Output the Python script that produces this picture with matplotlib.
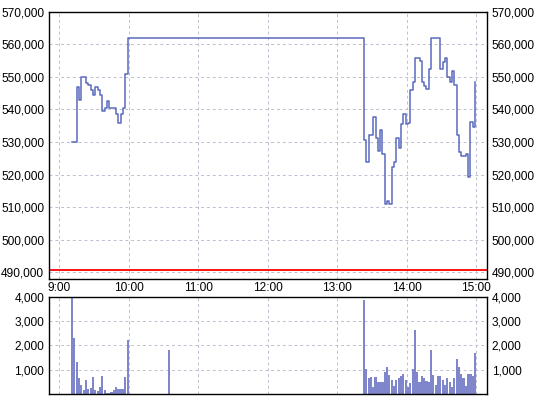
import numpy as np
import matplotlib.pyplot as plt
import matplotlib.ticker as mticker

plt.rcParams['font.family'] = ['Liberation Sans', 'DejaVu Sans']

# trade times are 2-minute bars, given as minutes after 9:00
am_minutes = list(range(11, 60, 2))          # 9:11 .. 9:59
mid_minutes = [95]                           # 10:35
pm_minutes = list(range(263, 360, 2))        # 13:23 .. 14:59

am_price = [530000, 530000, 547000, 543000, 550000, 550000, 548000, 547500,
            546000, 544500, 547000, 546000, 544500, 539500, 540500, 542500,
            540500, 540500, 540500, 538500, 536000, 538500, 540500, 551000,
            562000]
mid_price = [562000]
pm_price = [530500, 523800, 532200, 532200, 537600, 531400, 527300, 533700,
            526300, 511000, 511900, 511000, 522300, 523800, 531200, 528300,
            535500, 538600, 535500, 536000, 546000, 548500, 555700, 555700,
            554900, 548500, 547300, 546200, 552300, 562000, 562000, 562000,
            562000, 552300, 554700, 555700, 549900, 548500, 551800, 547500,
            532200, 527100, 525700, 525700, 526300, 519200, 536100, 534600,
            548500]

am_volume = [4000, 2320, 1310, 650, 365, 180, 570, 230, 260, 690, 175, 135,
             300, 770, 160, 70, 70, 95, 160, 300, 215, 215, 230, 690, 2240]
mid_volume = [1820]
pm_volume = [3850, 1050, 650, 700, 300, 700, 500, 500, 520, 900, 1100, 800,
             600, 350, 600, 650, 750, 850, 600, 300, 450, 1050, 2650, 900,
             500, 750, 650, 550, 500, 1800, 800, 400, 750, 750, 600, 400,
             650, 500, 300, 650, 1450, 1100, 850, 650, 350, 850, 850, 750,
             1700]

ref_price = 490700
hour_ticks = [0, 60, 120, 180, 240, 300, 360]
hour_labels = ['9:00', '10:00', '11:00', '12:00', '13:00', '14:00', '15:00']

minutes = am_minutes + mid_minutes + pm_minutes
price = am_price + mid_price + pm_price
volume = am_volume + mid_volume + pm_volume

fig = plt.figure(figsize=(5.40, 4.03), dpi=100)
ax1 = fig.add_axes([0.0907, 0.3077, 0.8106, 0.6633])
ax2 = fig.add_axes([0.0907, 0.0216, 0.8106, 0.2422])

grid_kw = dict(color='#bcc0d0', linestyle=(0, (3, 3)), linewidth=0.7)

ax1.plot(minutes, price, drawstyle='steps-post', color='#5b6abf', linewidth=1.1)
ax1.axhline(ref_price, color='#ff0000', linewidth=1.3)
ax1.set_ylim(488000, 570000)
ax1.set_yticks(np.arange(490000, 570001, 10000))
ax1.yaxis.set_major_formatter(mticker.FuncFormatter(lambda v, p: f'{int(v):,}'))

ax2.bar(minutes, volume, width=1.8, color='#7f86cc', linewidth=0)
ax2.set_ylim(0, 4000)
ax2.set_yticks([1000, 2000, 3000, 4000])
ax2.yaxis.set_major_formatter(mticker.FuncFormatter(lambda v, p: f'{int(v):,}'))

for ax in (ax1, ax2):
    ax.set_xlim(-9, 369)
    ax.set_xticks(hour_ticks)
    ax.grid(True, **grid_kw)
    ax.set_axisbelow(True)
    for s in ax.spines.values():
        s.set_linewidth(1.0)
        s.set_color('black')
    ax.tick_params(axis='y', which='both', length=0, labelsize=8.6,
                   left=True, right=True, labelleft=True, labelright=True)
    ax.tick_params(axis='y', pad=3.5)
    ax.tick_params(axis='x', length=0, labelsize=8.6, pad=2)

ax1.set_xticklabels(hour_labels)
ax2.set_xticklabels([])

fig.savefig('out.png', dpi=100)
